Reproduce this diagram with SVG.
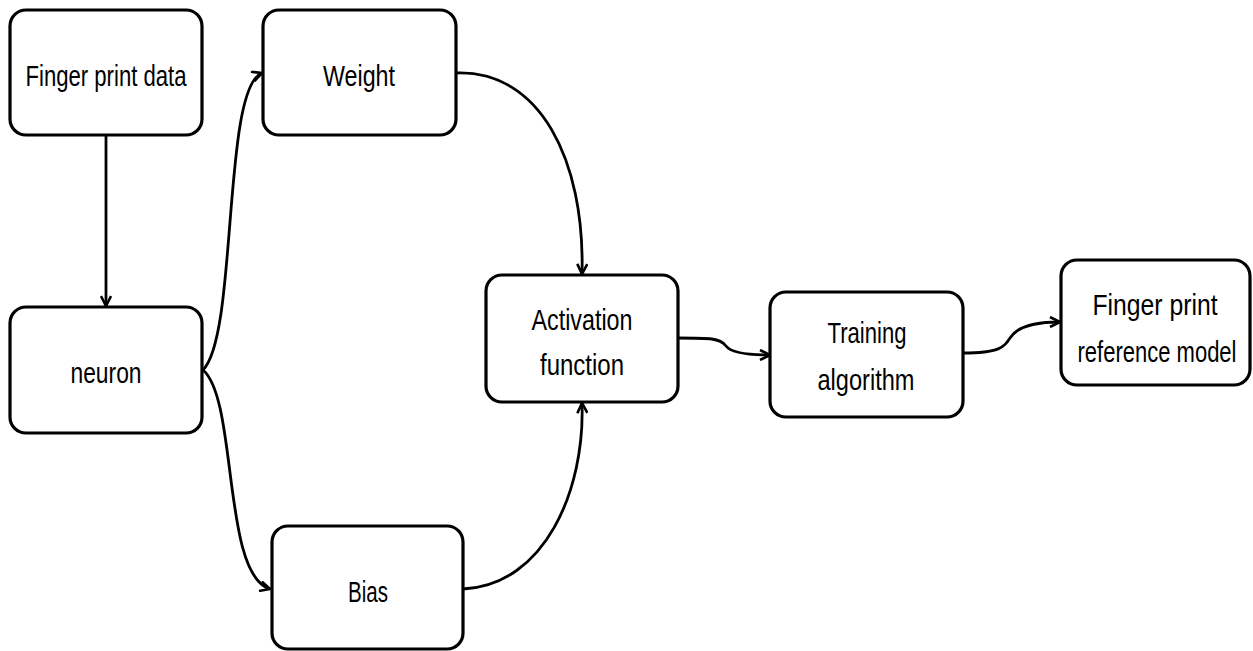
<svg xmlns="http://www.w3.org/2000/svg" width="1253" height="651" viewBox="0 0 1253 651">
<style>
.box{fill:#fff;stroke:#000;stroke-width:3.2}
.lbl{font-family:"Liberation Sans",Arial,sans-serif;font-size:30px;fill:#000;text-anchor:middle}
.edge{fill:none;stroke:#000;stroke-width:2.8}
</style>
<defs>
<marker id="arr" viewBox="0 0 12 12" refX="11" refY="6" markerWidth="12" markerHeight="12" markerUnits="userSpaceOnUse" orient="auto">
<path d="M1,1 L11,6 L1,11" fill="none" stroke="#000" stroke-width="2.6"/>
</marker>
</defs>
<rect width="1253" height="651" fill="#fff"/>
<g id="connectors">
<path class="edge" d="M106,136 L106,306" marker-end="url(#arr)"/>
<path class="edge" d="M203,370 C238,335 222,88 262,73" marker-end="url(#arr)"/>
<path class="edge" d="M203,370 C238,400 222,575 270,589" marker-end="url(#arr)"/>
<path class="edge" d="M456,73 C540,70 585,160 582,274" marker-end="url(#arr)"/>
<path class="edge" d="M463,589 C545,585 585,490 582,403" marker-end="url(#arr)"/>
<path class="edge" d="M678,338 C710,338 720,338 726,346 C732,354 752,355 770,355" marker-end="url(#arr)"/>
<path class="edge" d="M963,353 C1000,353 1004,347 1010,338 C1018,325 1040,322 1060,322" marker-end="url(#arr)"/>
</g>
<g id="fingerprint-data">
<rect class="box" x="10" y="10" width="192" height="125" rx="16"/>
<text class="lbl" x="106" y="86" textLength="161" lengthAdjust="spacingAndGlyphs">Finger print data</text>
</g>
<g id="weight">
<rect class="box" x="263" y="10" width="193" height="125" rx="16"/>
<text class="lbl" x="359" y="86" textLength="72" lengthAdjust="spacingAndGlyphs">Weight</text>
</g>
<g id="neuron">
<rect class="box" x="10" y="307" width="192" height="126" rx="16"/>
<text class="lbl" x="106" y="383" textLength="71" lengthAdjust="spacingAndGlyphs">neuron</text>
</g>
<g id="bias">
<rect class="box" x="272" y="526" width="191" height="123" rx="16"/>
<text class="lbl" x="368" y="602" textLength="40" lengthAdjust="spacingAndGlyphs">Bias</text>
</g>
<g id="activation">
<rect class="box" x="486" y="275" width="192" height="127" rx="16"/>
<text class="lbl" x="582" y="330" textLength="101" lengthAdjust="spacingAndGlyphs">Activation</text>
<text class="lbl" x="582" y="375" textLength="84" lengthAdjust="spacingAndGlyphs">function</text>
</g>
<g id="training">
<rect class="box" x="770" y="292" width="193" height="125" rx="16"/>
<text class="lbl" x="867" y="343" textLength="79" lengthAdjust="spacingAndGlyphs">Training</text>
<text class="lbl" x="866" y="390" textLength="97" lengthAdjust="spacingAndGlyphs">algorithm</text>
</g>
<g id="reference-model">
<rect class="box" x="1061" y="260" width="189" height="125" rx="16"/>
<text class="lbl" x="1155" y="315" textLength="125" lengthAdjust="spacingAndGlyphs">Finger print</text>
<text class="lbl" x="1157" y="362" textLength="159" lengthAdjust="spacingAndGlyphs">reference model</text>
</g>
</svg>
